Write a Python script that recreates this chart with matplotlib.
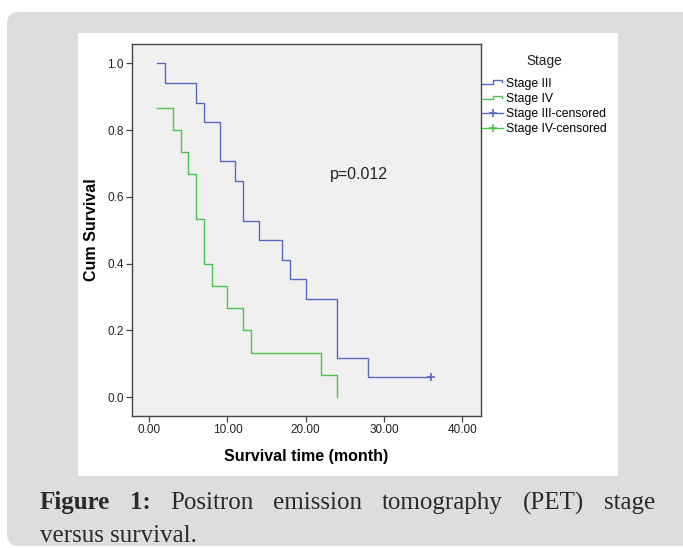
import numpy as np
import matplotlib
matplotlib.use('Agg')
import matplotlib.pyplot as plt
from matplotlib.patches import FancyBboxPatch, Rectangle
from matplotlib.lines import Line2D
from matplotlib.legend_handler import HandlerBase
from matplotlib.transforms import IdentityTransform

W, H = 683, 548

# Kaplan-Meier steps
stage3_time = [1, 2, 6, 7, 9, 11, 12, 14, 17, 18, 20, 24, 28, 36]
stage3_surv = [1.0, 0.941, 0.882, 0.824, 0.706, 0.647, 0.529, 0.471, 0.412, 0.353, 0.294, 0.118, 0.059, 0.059]
stage3_cens_time = [36]
stage3_cens_surv = [0.059]

stage4_time = [1, 3, 4, 5, 6, 7, 8, 10, 12, 13, 22, 24]
stage4_surv = [0.867, 0.8, 0.733, 0.667, 0.533, 0.4, 0.333, 0.267, 0.2, 0.133, 0.067, 0.0]

x_ticks = [0, 10, 20, 30, 40]
x_labels = ['0.00', '10.00', '20.00', '30.00', '40.00']
y_ticks = [0.0, 0.2, 0.4, 0.6, 0.8, 1.0]
y_labels = ['0.0', '0.2', '0.4', '0.6', '0.8', '1.0']

legend_labels = ['Stage III', 'Stage IV', 'Stage III-censored', 'Stage IV-censored']
caption_line1 = ['Figure', '1:', 'Positron', 'emission', 'tomography', '(PET)', 'stage']
caption_line2 = 'versus survival.'

BLUE = '#5468c4'
GREEN = '#4cc44c'
SANS = 'Liberation Sans'
SERIF = 'Liberation Serif'


class StepHandler(HandlerBase):
    # little step glyph like the SPSS legend
    def create_artists(self, legend, orig, xd, yd, width, height, fontsize, trans):
        x0 = -xd
        yc = (height - yd) / 2.0
        d = height * 0.22
        xs = [x0, x0 + width * 0.5, x0 + width * 0.5, x0 + width * 0.93, x0 + width * 0.93]
        ys = [yc - d, yc - d, yc + d, yc + d, yc]
        ln = Line2D(xs, ys, color=orig.get_color(), lw=1.0, transform=trans)
        return [ln]


fig = plt.figure(figsize=(W / 100, H / 100), dpi=100)
fig.patch.set_facecolor('white')

# grey rounded card and white chart panel
card = FancyBboxPatch((7, 2), 700, 534, boxstyle='round,pad=0,rounding_size=12',
                      facecolor='#dcdddf', edgecolor='none', transform=IdentityTransform(), zorder=-3)
fig.add_artist(card)
panel = Rectangle((78, 72), 540, 443, facecolor='white', edgecolor='none',
                  transform=IdentityTransform(), zorder=-2)
fig.add_artist(panel)

ax = fig.add_axes([132 / W, 1 - 415.7 / H, (481 - 132) / W, (415.7 - 44) / H])
ax.set_facecolor('#f0f0f0')

l3, = ax.step(stage3_time, stage3_surv, where='post', color=BLUE, lw=1.0)
l4, = ax.step(stage4_time, stage4_surv, where='post', color=GREEN, lw=1.0)
c3, = ax.plot(stage3_cens_time, stage3_cens_surv, ls='none', marker='+', ms=6, mew=1.2, color=BLUE)

ax.set_xlim(-2.2, 42.4)
ax.set_ylim(-0.056, 1.058)
ax.set_xticks(x_ticks)
ax.set_xticklabels(x_labels, fontsize=8.5, family=SANS, color='#222222')
ax.set_yticks(y_ticks)
ax.set_yticklabels(y_labels, fontsize=8.5, family=SANS, color='#222222')
ax.tick_params(direction='out', length=4, width=0.9, color='#444444', pad=2)
for s in ax.spines.values():
    s.set_color('#444444')
    s.set_linewidth(1.0)

ax.set_xlabel('Survival time (month)', fontsize=11.5, fontweight='bold', family=SANS, labelpad=9)
ax.set_ylabel('Cum Survival', fontsize=11.5, fontweight='bold', family=SANS, labelpad=6)

ax.text(329.7 / W, 1 - 179 / H, 'p=0.012', transform=fig.transFigure, fontsize=11.5,
        family=SANS, color='#222222', va='baseline', ha='left')

c4 = Line2D([], [], color=GREEN, marker='+', ms=6, mew=1.2, lw=1.0)
c3h = Line2D([], [], color=BLUE, marker='+', ms=6, mew=1.2, lw=1.0)
fig.text(544.5 / W, 1 - 60.5 / H, 'Stage', family=SANS, fontsize=9.8, color='#222222',
         ha='center', va='center')
leg = fig.legend([l3, l4, c3h, c4], legend_labels, loc='upper left',
                 bbox_to_anchor=(481.7 / W, 1 - 77.5 / H), frameon=False,
                 prop={'family': SANS, 'size': 8.8}, handlelength=1.77, handletextpad=0.22,
                 labelspacing=0.27, borderpad=0, borderaxespad=0,
                 handler_map={l3: StepHandler(), l4: StepHandler()})

# caption, justified like the source page
r = fig.canvas.get_renderer()
x_left, x_right = 40, 655
words = []
for i, w in enumerate(caption_line1):
    t = fig.text(0, 1 - 509.3 / H, w, family=SERIF, fontsize=18, color='#2a2a2a',
                 fontweight='bold' if i < 2 else 'normal', va='baseline', ha='left')
    words.append(t)
widths = [t.get_window_extent(r).width for t in words]
gap = (x_right - x_left - sum(widths)) / (len(words) - 1)
x = x_left
for t, w in zip(words, widths):
    t.set_x(x / W)
    x += w + gap
fig.text(x_left / W, 1 - 541.5 / H, caption_line2, family=SERIF, fontsize=18, color='#2a2a2a',
         va='baseline', ha='left')

fig.savefig('out.png', dpi=100)
